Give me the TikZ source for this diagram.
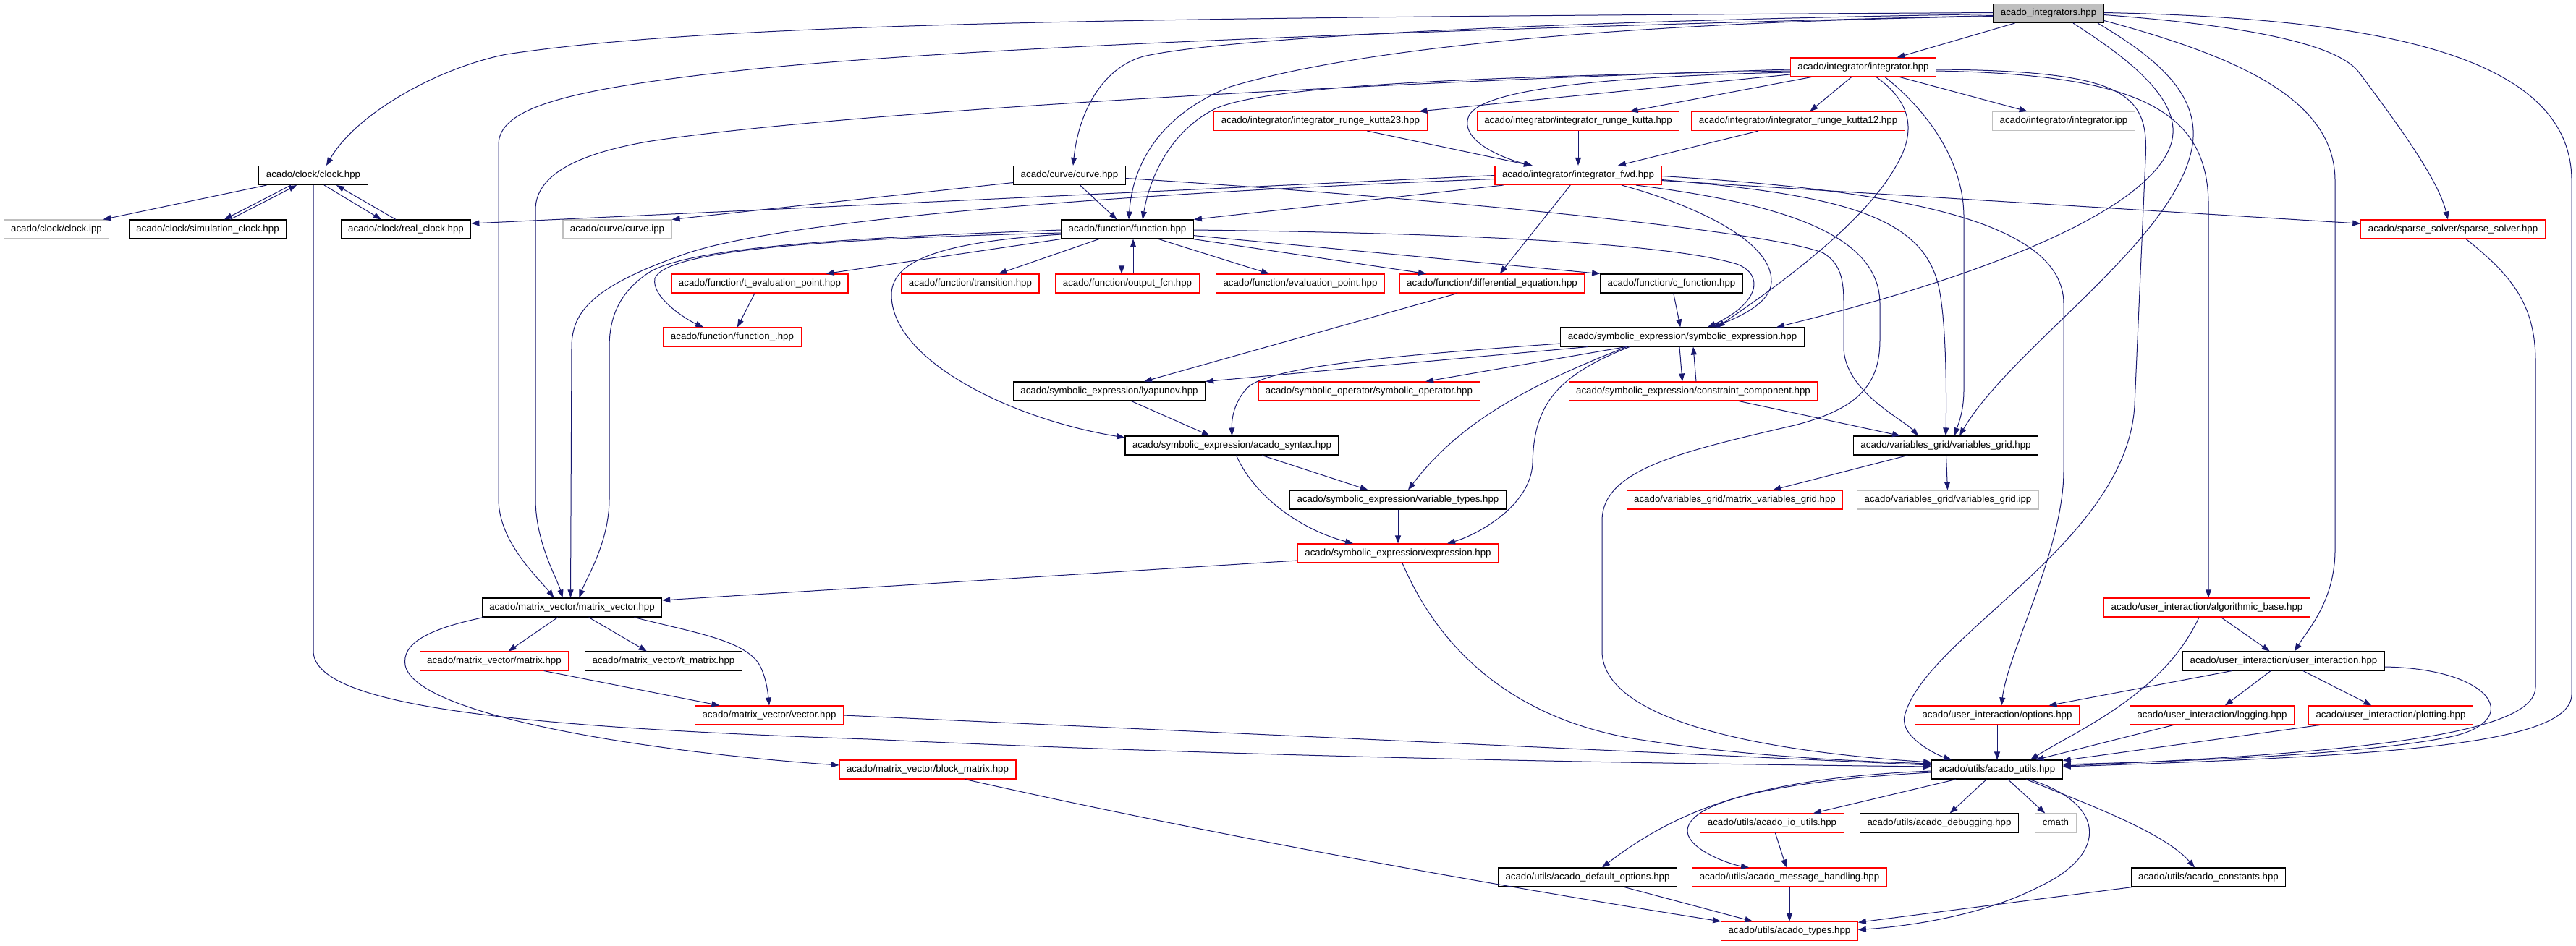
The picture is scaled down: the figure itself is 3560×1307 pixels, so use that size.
\documentclass[tikz,border=0pt]{standalone}
\usepackage{fontspec}
\setmainfont{Liberation Sans}
\usetikzlibrary{arrows.meta}
\definecolor{edgeblue}{HTML}{191970}
\definecolor{nodocgray}{HTML}{BFBFBF}
\tikzset{
    hdr/.style={draw=black, line width=1.1pt, fill=white, minimum height=26pt,
        inner xsep=10pt, inner ysep=0pt, text height=9.6pt, text depth=2.8pt,
        font=\fontsize{13.3}{16}\selectfont},
    hdrred/.style={hdr, draw=red},
    hdrgray/.style={hdr, draw=nodocgray},
    hdrroot/.style={hdr, fill=nodocgray},
    incl/.style={draw=edgeblue, line width=1pt, -{Triangle[length=11pt,width=8pt]}}
}
\begin{document}
\begin{tikzpicture}[x=1pt,y=-1pt]
            \useasboundingbox[fill=white] (0,0) rectangle (3560,1307);

            \node[hdrroot] (root) at (2831,18.5) {acado\_integrators.hpp};
            \node[hdrred] (integ) at (2575,93) {acado/integrator/integrator.hpp};
            \node[hdrred] (rkb) at (1825,167.5) {acado/integrator/integrator\_runge\_kutta23.hpp};
            \node[hdrred] (rk) at (2181,167.5) {acado/integrator/integrator\_runge\_kutta.hpp};
            \node[hdrred] (rka) at (2485,167.5) {acado/integrator/integrator\_runge\_kutta12.hpp};
            \node[hdrgray] (integipp) at (2852,167.5) {acado/integrator/integrator.ipp};
            \node[hdr] (clock) at (433,242.5) {acado/clock/clock.hpp};
            \node[hdr] (curve) at (1478,242.5) {acado/curve/curve.hpp};
            \node[hdrred] (fwd) at (2181,242.5) {acado/integrator/integrator\_fwd.hpp};
            \node[hdrgray] (clockipp) at (78,317) {acado/clock/clock.ipp};
            \node[hdr] (simclock) at (287,317) {acado/clock/simulation\_clock.hpp};
            \node[hdr] (realclock) at (561,317) {acado/clock/real\_clock.hpp};
            \node[hdrgray] (curveipp) at (853,317) {acado/curve/curve.ipp};
            \node[hdr] (func) at (1558,317) {acado/function/function.hpp};
            \node[hdrred] (sparse) at (3390,317) {acado/sparse\_solver/sparse\_solver.hpp};
            \node[hdrred] (teval) at (1050,392) {acado/function/t\_evaluation\_point.hpp};
            \node[hdrred] (transition) at (1341,392) {acado/function/transition.hpp};
            \node[hdrred] (outfcn) at (1558,392) {acado/function/output\_fcn.hpp};
            \node[hdrred] (evalpt) at (1797,392) {acado/function/evaluation\_point.hpp};
            \node[hdrred] (diffeq) at (2062,392) {acado/function/differential\_equation.hpp};
            \node[hdr] (cfunc) at (2310,392) {acado/function/c\_function.hpp};
            \node[hdrred] (funcu) at (1012,466) {acado/function/function\_.hpp};
            \node[hdr] (symexpr) at (2325,466) {acado/symbolic\_expression/symbolic\_expression.hpp};
            \node[hdr] (lyap) at (1533,541) {acado/symbolic\_expression/lyapunov.hpp};
            \node[hdrred] (symop) at (1892,541) {acado/symbolic\_operator/symbolic\_operator.hpp};
            \node[hdrred] (constr) at (2340,541) {acado/symbolic\_expression/constraint\_component.hpp};
            \node[hdr] (syntax) at (1702.5,616) {acado/symbolic\_expression/acado\_syntax.hpp};
            \node[hdr] (vgrid) at (2689,616) {acado/variables\_grid/variables\_grid.hpp};
            \node[hdr] (vartypes) at (1932,691) {acado/symbolic\_expression/variable\_types.hpp};
            \node[hdrred] (mvgrid) at (2397.5,691) {acado/variables\_grid/matrix\_variables\_grid.hpp};
            \node[hdrgray] (vgridipp) at (2692,691) {acado/variables\_grid/variables\_grid.ipp};
            \node[hdrred] (expr) at (1932,765) {acado/symbolic\_expression/expression.hpp};
            \node[hdr] (matvec) at (790.5,840) {acado/matrix\_vector/matrix\_vector.hpp};
            \node[hdrred] (algbase) at (3050,840) {acado/user\_interaction/algorithmic\_base.hpp};
            \node[hdrred] (matrix) at (683,914) {acado/matrix\_vector/matrix.hpp};
            \node[hdr] (tmatrix) at (917,914) {acado/matrix\_vector/t\_matrix.hpp};
            \node[hdr] (uinter) at (3156,914) {acado/user\_interaction/user\_interaction.hpp};
            \node[hdrred] (vector) at (1063,989) {acado/matrix\_vector/vector.hpp};
            \node[hdrred] (options) at (2760,989) {acado/user\_interaction/options.hpp};
            \node[hdrred] (logging) at (3057,989) {acado/user\_interaction/logging.hpp};
            \node[hdrred] (plotting) at (3304,989) {acado/user\_interaction/plotting.hpp};
            \node[hdrred] (blockm) at (1282,1064) {acado/matrix\_vector/block\_matrix.hpp};
            \node[hdr] (utils) at (2760,1064) {acado/utils/acado\_utils.hpp};
            \node[hdrred] (ioutils) at (2449,1138) {acado/utils/acado\_io\_utils.hpp};
            \node[hdr] (debugging) at (2680,1138) {acado/utils/acado\_debugging.hpp};
            \node[hdrgray] (cmath) at (2841,1138) {cmath};
            \node[hdr] (defopts) at (2194,1213) {acado/utils/acado\_default\_options.hpp};
            \node[hdrred] (msghand) at (2473,1213) {acado/utils/acado\_message\_handling.hpp};
            \node[hdr] (constants) at (3052,1213) {acado/utils/acado\_constants.hpp};
            \node[hdrred] (types) at (2473,1287.5) {acado/utils/acado\_types.hpp};

            \foreach \a/\b in {root/integ, integ/rkb, integ/rk, integ/rka, integ/integipp,
                rkb/fwd, rk/fwd, rka/fwd, clock/clockipp, curve/func, fwd/diffeq, fwd/sparse,
                func/teval, func/transition, func/evalpt, func/diffeq, teval/funcu, diffeq/lyap,
                cfunc/symexpr, symexpr/symop, constr/vgrid, vgrid/mvgrid, vgrid/vgridipp,
                lyap/syntax, syntax/vartypes, vartypes/expr, matvec/matrix, matvec/tmatrix,
                matrix/vector, algbase/uinter, uinter/options, uinter/logging, uinter/plotting,
                options/utils, logging/utils, plotting/utils, utils/ioutils, utils/debugging,
                utils/cmath, ioutils/msghand, msghand/types, constants/types, defopts/types}
                \draw[incl] (\a) -- (\b);

            \draw[incl] ([yshift=1pt]root.west) .. controls (1600,24) and (1000,30) .. (700,75) .. controls (600,95) and (490,160) .. ([xshift=18pt]clock.north);
            \draw[incl] ([yshift=-3pt]root.west) .. controls (2000,40) and (1300,65) .. (1000,100) .. controls (780,125) and (689,150) .. (689,200) -- (689,690) .. controls (689,750) and (745,800) .. ([xshift=-25pt]matvec.north);
            \draw[incl] ([yshift=-1pt]root.west) .. controls (2200,28) and (1700,50) .. (1580,78) .. controls (1520,95) and (1490,160) .. ([xshift=5pt]curve.north);
            \draw[incl] ([yshift=-4pt]root.west) .. controls (2300,30) and (1900,60) .. (1700,120) .. controls (1600,160) and (1565,230) .. ([xshift=2pt]func.north);
            \draw[incl] ([xshift=34pt]root.south) .. controls (2940,80) and (3020,140) .. (3000,200) .. controls (2970,290) and (2750,380) .. ([xshift=130pt]symexpr.north);
            \draw[incl] ([xshift=68pt]root.south) .. controls (2980,80) and (3040,130) .. (3030,200) .. controls (3010,330) and (2780,480) .. ([xshift=19pt]vgrid.north);
            \draw[incl] ([yshift=-10pt]root.east) .. controls (3100,80) and (3227,140) .. (3227,250) -- (3227,760) .. controls (3227,830) and (3190,870) .. ([xshift=15pt]uinter.north);
            \draw[incl] ([yshift=-2pt]root.east) .. controls (3100,35) and (3230,60) .. (3260,100) .. controls (3320,180) and (3370,250) .. ([xshift=-7pt]sparse.north);
            \draw[incl] ([yshift=1pt]root.east) .. controls (3300,25) and (3554,80) .. (3554,250) -- (3554,960) .. controls (3554,1030) and (3300,1045) .. ([yshift=4pt]utils.east);

            \draw[incl] ([yshift=-3pt]integ.west) .. controls (2000,110) and (1200,150) .. (900,195) .. controls (780,215) and (740,250) .. (740,290) -- (740,690) .. controls (740,750) and (770,800) .. ([xshift=-13pt]matvec.north);
            \draw[incl] ([yshift=-5pt]integ.west) .. controls (2100,105) and (1760,115) .. (1680,150) .. controls (1620,180) and (1590,240) .. ([xshift=21pt]func.north);
            \draw[incl] ([yshift=-7pt]integ.west) .. controls (2250,105) and (2050,120) .. (2030,160) .. controls (2015,195) and (2080,220) .. ([xshift=-63pt]fwd.north);
            \draw[incl] ([xshift=18pt]integ.south) .. controls (2640,140) and (2650,180) .. (2620,230) .. controls (2570,320) and (2420,420) .. ([xshift=48pt]symexpr.north);
            \draw[incl] ([xshift=30pt]integ.south) .. controls (2660,150) and (2714,220) .. (2714,300) -- (2714,540) .. controls (2714,570) and (2705,590) .. ([xshift=12pt]vgrid.north);
            \draw[incl] ([yshift=-3pt]integ.east) .. controls (2940,98) and (2970,130) .. (2965,220) -- (2950,560) .. controls (2940,750) and (2660,880) .. (2632,990) .. controls (2625,1020) and (2680,1045) .. ([xshift=-63pt]utils.north);
            \draw[incl] ([yshift=-5pt]integ.east) .. controls (2950,103) and (3050,150) .. (3052,280) -- ([xshift=2pt]algbase.north);

            \draw[incl] ([xshift=12pt]fwd.south west) -- (func.north east);
            \draw[incl] (fwd.west) -- ([yshift=8pt]realclock.east);
            \draw[incl] ([yshift=-5pt]fwd.west) .. controls (1600,265) and (1100,300) .. (950,350) .. controls (820,395) and (790,430) .. (790,480) -- ([xshift=-2pt]matvec.north);
            \draw[incl] ([yshift=-1pt]fwd.east) .. controls (2600,262) and (2852,300) .. (2852,420) -- (2852,650) .. controls (2852,760) and (2775,900) .. ([xshift=6pt]options.north);
            \draw[incl] ([yshift=-6pt]fwd.east) .. controls (2550,270) and (2660,300) .. (2680,400) .. controls (2690,450) and (2690,550) .. (vgrid.north);
            \draw[incl] ([xshift=80pt]fwd.south) .. controls (2450,280) and (2598,320) .. (2598,420) -- (2598,470) .. controls (2598,530) and (2570,565) .. (2480,588) .. controls (2320,625) and (2214,650) .. (2214,720) -- (2214,900) .. controls (2214,1000) and (2450,1040) .. ([yshift=10pt]utils.west);
            \draw[incl] ([xshift=60pt]fwd.south) .. controls (2330,280) and (2450,330) .. (2448,390) .. controls (2447,420) and (2400,440) .. ([xshift=41pt]symexpr.north);

            \draw[incl] ([yshift=-10pt]curve.west) -- (curveipp.north east);
            \draw[incl] ([yshift=-4pt]curve.east) .. controls (2000,275) and (2450,320) .. (2520,350) .. controls (2545,365) and (2548,390) .. (2548,420) -- (2548,480) .. controls (2548,540) and (2630,580) .. ([xshift=-38pt]vgrid.north);

            \draw[incl] ([yshift=-1pt]func.west) .. controls (1200,328) and (950,340) .. (895,378) .. controls (855,405) and (842,440) .. (842,480) -- (842,690) .. controls (842,750) and (810,800) .. ([xshift=10pt]matvec.north);
            \draw[incl] ([yshift=-5pt]func.west) .. controls (1150,330) and (920,345) .. (905,385) .. controls (900,410) and (945,440) .. ([xshift=-40pt]funcu.north);
            \draw[incl] ([yshift=-7pt]func.west) .. controls (1300,335) and (1230,360) .. (1232,410) .. controls (1235,500) and (1400,580) .. ([yshift=11pt]syntax.west);
            \draw[incl] ([xshift=-8pt]func.south) -- ([xshift=-8pt]outfcn.north);
            \draw[incl] ([xshift=8pt]outfcn.north) -- ([xshift=8pt]func.south);
            \draw[incl] (func) -- (cfunc.north west);
            \draw[incl] ([yshift=-1pt]func.east) .. controls (2000,322) and (2300,335) .. (2400,365) .. controls (2440,380) and (2430,420) .. ([xshift=35pt]symexpr.north);

            \draw[incl] ([yshift=-9pt]symexpr.west) .. controls (1950,490) and (1760,505) .. (1725,535) .. controls (1705,555) and (1702,580) .. (syntax.north);
            \draw[incl] ([xshift=38pt]symexpr.south west) -- (lyap.north east);
            \draw[incl] ([xshift=-77pt]symexpr.south) .. controls (2120,530) and (2020,580) .. ([xshift=14pt]vartypes.north);
            \draw[incl] ([xshift=-73pt]symexpr.south) .. controls (2150,520) and (2120,560) .. (2118,640) .. controls (2116,700) and (2040,740) .. ([xshift=68pt]expr.north);
            \draw[incl] ([xshift=-4pt]symexpr.south) -- ([xshift=-15pt]constr.north);
            \draw[incl] ([xshift=4pt]constr.north) -- ([xshift=15pt]symexpr.south);

            \draw[incl] ([xshift=6pt]syntax.south) .. controls (1730,680) and (1790,730) .. ([xshift=-62pt]expr.north);
            \draw[incl] ([yshift=-10pt]expr.west) -- ([yshift=10pt]matvec.east);
            \draw[incl] ([xshift=6pt]expr.south) .. controls (1990,900) and (2090,990) .. (2250,1020) .. controls (2400,1045) and (2550,1052) .. ([yshift=8pt]utils.west);

            \draw[incl] ([xshift=86pt]matvec.south) .. controls (960,875) and (1030,885) .. (1050,920) .. controls (1058,935) and (1061,955) .. (vector.north);
            \draw[incl] ([xshift=-122pt]matvec.south) .. controls (590,870) and (555,890) .. (560,920) .. controls (575,990) and (900,1040) .. ([yshift=6pt]blockm.west);
            \draw[incl] (vector.east) -- ([yshift=6pt]utils.west);
            \draw[incl] ([xshift=52pt]blockm.south) .. controls (1700,1160) and (2100,1230) .. (types.north west);

            \draw[incl] ([xshift=-31pt]clock.south) -- ([xshift=23pt]simclock.north);
            \draw[incl] ([xshift=31pt]simclock.north) -- ([xshift=-23pt]clock.south);
            \draw[incl] ([xshift=15pt]clock.south) -- ([xshift=-34pt]realclock.north);
            \draw[incl] ([xshift=-14pt]realclock.north) -- ([xshift=32pt]clock.south);
            \draw[incl] (clock.south) -- (433,900) .. controls (433,975) and (700,1005) .. (1200,1022) .. controls (1800,1050) and (2400,1057) .. ([yshift=4pt]utils.west);

            \draw[incl] ([xshift=-11pt]algbase.south) .. controls (2990,960) and (2870,1010) .. ([xshift=46pt]utils.north);
            \draw[incl] ([yshift=-8pt]uinter.east) .. controls (3450,925) and (3490,1000) .. (3380,1020) .. controls (3250,1045) and (3000,1053) .. ([yshift=7pt]utils.east);
            \draw[incl] ([xshift=18pt]sparse.south) .. controls (3470,380) and (3504,420) .. (3504,500) -- (3504,950) .. controls (3504,1010) and (3300,1040) .. ([yshift=5pt]utils.east);

            \draw[incl] ([xshift=40pt]utils.south) .. controls (2880,1110) and (2990,1150) .. ([xshift=-19pt]constants.north);
            \draw[incl] ([xshift=44pt]utils.south) .. controls (2910,1110) and (2915,1180) .. (2820,1225) .. controls (2750,1262) and (2650,1280) .. ([yshift=2pt]types.east);
            \draw[incl] ([yshift=-2pt]utils.west) .. controls (2450,1075) and (2330,1110) .. ([xshift=20pt]defopts.north);
            \draw[incl] ([yshift=-4pt]utils.west) .. controls (2450,1080) and (2330,1110) .. (2332,1150) .. controls (2334,1175) and (2390,1195) .. ([xshift=-56pt]msghand.north);
\end{tikzpicture}
\end{document}
